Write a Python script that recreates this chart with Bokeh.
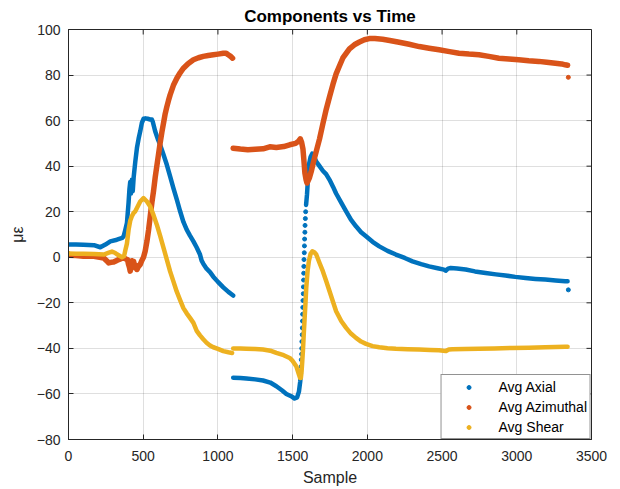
from bokeh.plotting import figure
from bokeh.models import Range1d, FixedTicker, Legend, LegendItem
from bokeh.embed import file_html
from bokeh.resources import INLINE

# ---------------- data ----------------
x_ticks = [0, 500, 1000, 1500, 2000, 2500, 3000, 3500]
y_ticks = [-80, -60, -40, -20, 0, 20, 40, 60, 80, 100]

# Avg Axial
axial_x1 = [0, 50, 100, 170, 213, 247, 280, 324, 360, 369, 380, 391, 402, 408, 413, 418, 424, 430, 436,
            447, 458, 469, 480, 491, 502, 515, 530, 547, 558, 564, 580, 600, 613, 636, 658, 680, 702, 725,
            747, 769, 791, 813, 836, 858, 880, 891, 902, 924, 947, 969, 1000, 1036, 1070, 1102]
axial_y1 = [5.6, 5.6, 5.5, 5.3, 4.4, 5.6, 7.0, 7.7, 8.5, 9.2, 12, 15, 24, 30, 33, 28, 34, 29, 35,
            42, 48, 52, 55.3, 59, 60.8, 61, 60.8, 60.5, 60.5, 59.5, 55.3, 51.5, 49.4, 45, 40.6, 35.5, 30.4, 25.3,
            20.2, 15.5, 12.1, 9.5, 7, 4.3, 1.2, -1.5, -2.8, -5, -6.5, -8.5, -10.8, -13.2, -15.2, -16.8]
axial_x2 = [1102, 1150, 1191, 1250, 1302, 1350, 1391, 1430, 1458, 1490, 1513, 1530, 1542, 1551, 1555]
axial_y2 = [-52.9, -53.0, -53.2, -53.6, -54.1, -55.0, -56.6, -58.5, -60, -61, -62, -61.5, -59, -54.4, -51]
axial_rise_x = [1557, 1558, 1560, 1561, 1562, 1564, 1565, 1566, 1567, 1568, 1569, 1571, 1572, 1573, 1574,
                1575, 1576, 1578, 1579, 1580, 1582, 1583, 1585, 1587]
axial_rise_y = [-48, -45, -42.5, -40, -37, -34, -31, -28, -25, -22, -19, -16, -13, -10, -7,
                -4, -1, 2, 5, 8, 11, 14, 17, 20]
axial_x3 = [1590, 1596, 1603, 1609, 1620, 1631, 1645, 1658, 1680, 1702, 1724, 1747, 1770, 1791, 1825, 1858,
            1890, 1924, 1958, 1991, 2035, 2080, 2135, 2191, 2250, 2302, 2360, 2413, 2470, 2513, 2524, 2540,
            2558, 2600, 2658, 2720, 2791, 2860, 2924, 2990, 3058, 3125, 3191, 3260, 3324, 3340]
axial_y3 = [23, 27.5, 35, 40.6, 44, 45.5, 44, 42, 40, 38, 36.5, 34, 31, 28, 24, 20.2,
            16.5, 13.6, 11, 9.2, 6.8, 4.8, 2.8, 1.2, -0.3, -1.8, -3, -4, -4.8, -5.4, -5.9, -5.0,
            -4.7, -4.9, -5.4, -6.2, -6.9, -7.5, -8, -8.6, -9.1, -9.5, -9.8, -10.2, -10.5, -10.5]
axial_out_x = [3345]
axial_out_y = [-14.3]

# Avg Azimuthal
azim_x1 = [0, 50, 100, 170, 236, 255, 269, 285, 302, 320, 336, 352, 369, 385, 395, 402, 408, 413, 419, 425,
           430, 436, 442, 447, 453, 458, 464, 470, 480, 490, 502, 513, 525, 536, 547, 558, 569, 580, 591,
           602, 613, 625, 636, 647, 658, 669, 680, 702, 725, 747, 769, 800, 836, 870, 902, 935, 969, 1000,
           1036, 1055, 1069, 1085, 1098]
azim_y1 = [0.9, 0.8, 0.5, 0.4, -0.3, -1.5, -2.5, -2.2, -2.1, -1.5, -1.0, -0.6, -0.3, -0.8, -1.0, -3.2, -4.5,
           -6.1, -3, -1.5, -2.5, -1.8, -4, -4.7, -3.5, -5.4, -4.5, -4.0, -3.2, -1.5, 0.0, 2.6, 7, 12, 18,
           24, 29, 35, 40, 45, 50, 55, 59, 63, 66, 68.8, 71.3, 75.5, 78.6, 81, 83, 85, 86.7, 87.6, 88.2,
           88.6, 88.9, 89.2, 89.6, 89.6, 88.9, 88.2, 87.4]
azim_x2 = [1102, 1150, 1200, 1250, 1302, 1347, 1391, 1440, 1480, 1520, 1540, 1551, 1560, 1569, 1576, 1582,
           1590, 1596, 1603, 1613, 1624, 1640, 1658, 1680, 1702, 1725, 1747, 1770, 1791, 1813, 1836, 1858,
           1880, 1913, 1947, 1980, 2013, 2050, 2102, 2150, 2213, 2280, 2347, 2413, 2480, 2550, 2613, 2680,
           2747, 2813, 2880, 2947, 3013, 3080, 3147, 3200, 3258, 3300, 3324, 3340]
azim_y2 = [47.9, 47.5, 47.2, 47.4, 47.6, 48.5, 48.2, 48.6, 49.4, 50, 51, 52, 50.5, 47.5, 42, 37,
           34, 32.6, 33.5, 35, 37.5, 42, 46.5, 52, 58.5, 65, 70.5, 76, 80.5, 84, 87.5, 89.5,
           91.5, 93.3, 94.5, 95.5, 96, 96, 95.7, 95.2, 94.4, 93.5, 92.5, 91.8, 91.1, 90.3, 89.6, 89.2,
           88.9, 88.2, 87.4, 87, 86.7, 86.3, 86, 85.6, 85.2, 84.9, 84.5, 84.3]
azim_out_x = [3345]
azim_out_y = [79.0]

# Avg Shear
shear_x1 = [0, 50, 100, 170, 236, 270, 291, 310, 324, 358, 372, 380, 391, 402, 413, 424, 436, 447, 458,
            480, 502, 525, 547, 569, 591, 613, 636, 658, 680, 702, 724, 747, 769, 791, 813, 836, 858, 880,
            902, 924, 947, 969, 1000, 1036, 1070, 1095]
shear_y1 = [1.7, 1.6, 1.5, 1.4, 1.2, 2.0, 2.5, 2.0, 1.3, 0.0, 0.5, 3.0, 6.0, 12, 16, 18, 19.5, 20.2, 21.6,
            24.5, 26, 24.5, 22.3, 18.5, 14.3, 9.5, 4.1, -1.0, -6.2, -10.6, -15, -18.8, -22.3, -24.6, -26.6,
            -28.8, -32.3, -34.3, -36, -37.5, -38.7, -39.5, -40.2, -41.2, -41.7, -42]
shear_x2 = [1102, 1150, 1191, 1250, 1302, 1350, 1391, 1440, 1480, 1500, 1524, 1540, 1550, 1555, 1560, 1565,
            1569, 1575, 1580, 1586, 1591, 1600, 1609, 1620, 1632, 1645, 1658, 1680, 1702, 1725, 1747, 1770,
            1791, 1825, 1858, 1890, 1924, 1958, 1991, 2035, 2080, 2135, 2191, 2270, 2347, 2420, 2480, 2524,
            2545, 2569, 2650, 2747, 2850, 2969, 3080, 3191, 3260, 3324, 3340]
shear_y2 = [-40, -40.1, -40.2, -40.3, -40.5, -41, -42, -43, -44.2, -45.5, -47.8, -51, -53, -53, -50, -45,
            -41, -33, -27, -20, -13.5, -6, -1.5, 1.5, 2.6, 2.2, 1.2, -2.5, -6.1, -10.5, -14.9, -19.5,
            -23.7, -28, -31, -33.5, -35.4, -37, -38, -39, -39.5, -39.9, -40.2, -40.4, -40.5, -40.7, -40.8, -41.2,
            -40.5, -40.4, -40.3, -40.2, -40, -39.8, -39.7, -39.5, -39.4, -39.3, -39.3]

# ---------------- styling ----------------
BLUE, RED, YEL = "#0072BD", "#D95319", "#EDB120"
INK = "#262626"
FONT = "Liberation Sans"
X0, X1, Y0, Y1 = 0, 3500, -80, 100
FRAME_W, FRAME_H = 523, 410

p = figure(width=620, height=489, x_range=Range1d(X0, X1), y_range=Range1d(Y0, Y1),
           output_backend="svg", toolbar_location=None,
           min_border_left=68, min_border_right=29, min_border_top=29, min_border_bottom=50,
           title="Components vs Time")
p.background_fill_color = "white"
p.border_fill_color = "white"
p.outline_line_color = INK
p.outline_line_width = 1

p.title.align = "center"
p.title.text_font = FONT
p.title.text_font_size = "17px"
p.title.text_font_style = "bold"
p.title.text_color = "black"
p.title.offset = 0
p.title.standoff = 7

for ax in (p.xaxis[0], p.yaxis[0]):
    ax.axis_line_color = INK
    ax.major_tick_line_color = INK
    ax.major_tick_in = 5
    ax.major_tick_out = 0
    ax.minor_tick_line_color = None
    ax.major_label_text_font = FONT
    ax.major_label_text_font_size = "14px"
    ax.major_label_text_color = INK
    ax.axis_label_text_font = FONT
    ax.axis_label_text_font_size = "16px"
    ax.axis_label_text_font_style = "normal"
    ax.axis_label_text_color = INK

p.xaxis[0].ticker = FixedTicker(ticks=x_ticks)
p.yaxis[0].ticker = FixedTicker(ticks=y_ticks)
p.xaxis[0].axis_label = "Sample"
p.yaxis[0].axis_label = "με"
p.xaxis[0].major_label_standoff = 11
p.yaxis[0].major_label_standoff = 8
p.xaxis[0].axis_label_standoff = 5
p.yaxis[0].axis_label_standoff = 8

p.xgrid.ticker = FixedTicker(ticks=x_ticks)
p.ygrid.ticker = FixedTicker(ticks=y_ticks)
for g in (p.xgrid[0], p.ygrid[0]):
    g.grid_line_color = INK
    g.grid_line_alpha = 0.15

# inward tick marks on the top and right edges of the box (5 px long)
tk_y = 5 * (Y1 - Y0) / FRAME_H
tk_x = 5 * (X1 - X0) / FRAME_W
p.segment(x0=x_ticks, y0=[Y1] * len(x_ticks), x1=x_ticks, y1=[Y1 - tk_y] * len(x_ticks),
          line_color=INK, line_width=1)
p.segment(x0=[X1] * len(y_ticks), y0=y_ticks, x1=[X1 - tk_x] * len(y_ticks), y1=y_ticks,
          line_color=INK, line_width=1)

# ---------------- data marks ----------------
LW = 4.5
p.line(axial_x1, axial_y1, color=BLUE, line_width=LW, line_cap="round", line_join="round")
p.line(axial_x2, axial_y2, color=BLUE, line_width=LW, line_cap="round", line_join="round")
p.line(axial_x3, axial_y3, color=BLUE, line_width=LW, line_cap="round", line_join="round")
r_ax = p.scatter(axial_rise_x + axial_out_x, axial_rise_y + axial_out_y, color=BLUE, size=4)

p.line(azim_x1, azim_y1, color=RED, line_width=LW + 1, line_cap="round", line_join="round")
p.line(azim_x2, azim_y2, color=RED, line_width=LW + 1, line_cap="round", line_join="round")
r_az = p.scatter(azim_out_x, azim_out_y, color=RED, size=4)

p.line(shear_x1, shear_y1, color=YEL, line_width=LW, line_cap="round", line_join="round")
p.line(shear_x2, shear_y2, color=YEL, line_width=LW, line_cap="round", line_join="round")
r_sh = p.scatter(shear_x1[:1], shear_y1[:1], color=YEL, size=4)

legend = Legend(items=[LegendItem(label="Avg Axial", renderers=[r_ax]),
                       LegendItem(label="Avg Azimuthal", renderers=[r_az]),
                       LegendItem(label="Avg Shear", renderers=[r_sh])],
                location="bottom_right", margin=0, padding=3, spacing=3,
                glyph_width=48, glyph_height=10, label_height=17, label_standoff=6,
                label_text_font=FONT, label_text_font_size="14px", label_text_color="black",
                border_line_color=INK, border_line_width=1, background_fill_color="white",
                background_fill_alpha=1)
p.add_layout(legend, "center")

open("out.html", "w").write(file_html(p, INLINE))
